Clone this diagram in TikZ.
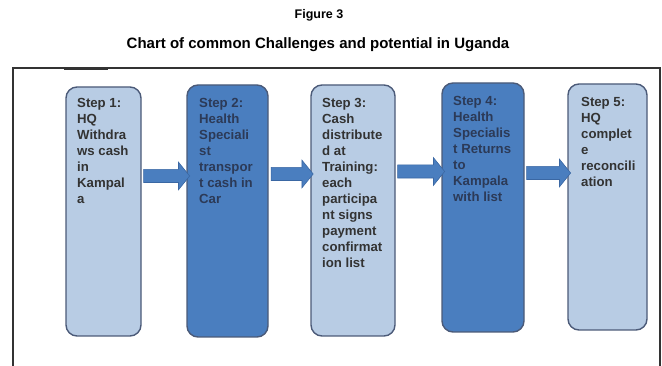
\documentclass[tikz,border=0pt]{standalone}
\usepackage{fontspec}
\setmainfont{Liberation Sans}
\usepackage{tikz}
\usetikzlibrary{positioning,shapes.arrows}
\definecolor{blue1}{HTML}{B8CCE4}
\definecolor{blue2}{HTML}{4A7EBF}
\definecolor{edge1}{HTML}{4B5A78}
\definecolor{edge2}{HTML}{3A67A3}
\definecolor{ink1}{HTML}{333333}
\definecolor{ink2}{HTML}{2C3A57}

\begin{document}
\begin{tikzpicture}[x=1pt, y=-1pt,
  box/.style={draw=edge1, line width=1.4pt, rounded corners=11pt, outer sep=0pt, inner sep=0pt},
  lightbox/.style={box, fill=blue1},
  darkbox/.style={box, fill=blue2},
  steptext/.style={align=left, inner sep=0pt, font=\fontsize{13.2}{16}\selectfont\bfseries},
  blockarrow/.style={single arrow, fill=blue2, draw=edge2, line width=0.6pt,
    inner xsep=0pt, inner ysep=6.25pt, single arrow head extend=7.25pt,
    single arrow tip angle=102, outer sep=0pt}]

  \useasboundingbox (0,0) rectangle (662,366);

  % headings
  \node[font=\fontsize{12.5}{15}\selectfont\bfseries] (fig) at (319,15) {Figure 3};
  \node[font=\fontsize{15}{18}\selectfont\bfseries] (title) at (318,45)
    {Chart of common Challenges and potential in Uganda};

  % open frame
  \draw[line width=1.3pt, ink1] (13,366) -- (13,68) -- (660,68) -- (660,366);
  \draw[line width=2pt, ink1] (64,69.5) -- (108,69.5);

  % the five steps
  \node[lightbox, minimum width=75pt, minimum height=249pt] (s1) at (103.5,211.5) {};
  \node[darkbox,  minimum width=81pt, minimum height=252pt] (s2) at (227.5,211) {};
  \node[lightbox, minimum width=84pt, minimum height=251pt] (s3) at (353,210.5) {};
  \node[darkbox,  minimum width=82pt, minimum height=249pt] (s4) at (483,207.5) {};
  \node[lightbox, minimum width=79pt, minimum height=246pt] (s5) at (607.5,207) {};

  \node[steptext, text=ink1, below right=11pt and 11pt of s1.north west] (t1)
    {Step 1:\\HQ\\Withdra\\ws cash\\in\\Kampal\\a};
  \node[steptext, text=ink2, below right=13pt and 12pt of s2.north west] (t2)
    {Step 2:\\Health\\Speciali\\st\\transpor\\t cash in\\Car};
  \node[steptext, text=ink1, below right=13pt and 11pt of s3.north west] (t3)
    {Step 3:\\Cash\\distribute\\d at\\Training:\\each\\participa\\nt signs\\payment\\confirmat\\ion list};
  \node[steptext, text=ink2, below right=13pt and 11pt of s4.north west] (t4)
    {Step 4:\\Health\\Specialis\\t Returns\\to\\Kampala\\with list};
  \node[steptext, text=ink1, below right=13pt and 13pt of s5.north west] (t5)
    {Step 5:\\HQ\\complet\\e\\reconcili\\ation};

  % block arrows between the steps
  \path (s1.east |- 0,176) -- (s2.west |- 0,176)
    node[blockarrow, midway, minimum height=46pt] (a1) {};
  \path (s2.east |- 0,174) -- (s3.west |- 0,174)
    node[blockarrow, midway, minimum height=42pt] (a2) {};
  \path (s3.east |- 0,171.5) -- (s4.west |- 0,171.5)
    node[blockarrow, midway, minimum height=47pt] (a3) {};
  \path (s4.east |- 0,173) -- (s5.west |- 0,173)
    node[blockarrow, midway, minimum height=44pt] (a4) {};

\end{tikzpicture}
\end{document}
